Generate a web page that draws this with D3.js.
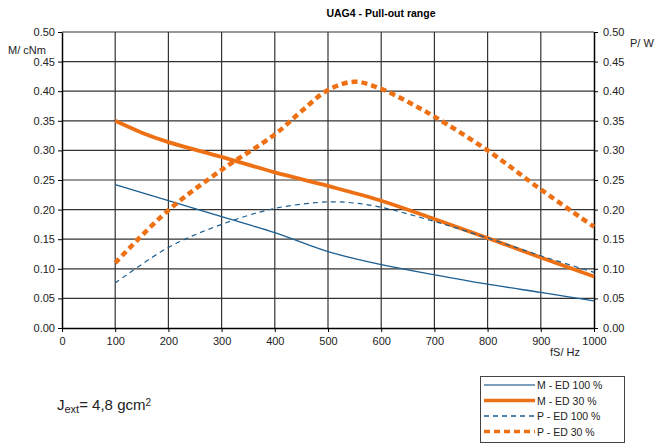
<!DOCTYPE html>
<html><head><meta charset="utf-8">
<script src="https://cdn.jsdelivr.net/npm/d3@7/dist/d3.min.js"></script>
<style>body{margin:0;background:#fff;font-family:"Liberation Sans",Arial,sans-serif}</style>
</head><body><svg id="c" width="657" height="448"></svg>
<script>
const title = "UAG4 - Pull-out range";
const xTicks = [0,100,200,300,400,500,600,700,800,900,1000];
const yTicks = [0,0.05,0.10,0.15,0.20,0.25,0.30,0.35,0.40,0.45,0.50];
const mEd100X = [100,200,300,400,500,600,700,800,900,1000];
const mEd100Y = [0.242,0.215,0.188,0.161,0.129,0.107,0.090,0.074,0.060,0.046];
const mEd30X = [100,150,200,300,400,500,600,700,800,900,1000];
const mEd30Y = [0.350,0.330,0.314,0.289,0.263,0.240,0.215,0.184,0.152,0.119,0.087];
const pEd100X = [100,200,300,400,500,550,600,700,800,900,1000];
const pEd100Y = [0.076,0.136,0.175,0.202,0.213,0.211,0.204,0.180,0.152,0.122,0.094];
const pEd30X = [100,200,300,400,450,500,550,600,650,700,800,900,1000];
const pEd30Y = [0.110,0.199,0.267,0.327,0.366,0.402,0.416,0.404,0.382,0.357,0.300,0.234,0.171];
const seriesNames = ["M - ED 100 %","M - ED 30 %","P - ED 100 %","P - ED 30 %"];

const svg = d3.select("#c");
const x = d3.scaleLinear().domain([0,1000]).range([62,594]);
const y = d3.scaleLinear().domain([0,0.5]).range([328,32]);
const blue = "#1b5e91", orange = "#ee7014";

// grid
svg.append("g").selectAll("line").data(xTicks.slice(1,-1)).join("line")
  .attr("x1",d=>x(d)).attr("x2",d=>x(d)).attr("y1",y(0.5)).attr("y2",y(0))
  .attr("stroke","#333").attr("stroke-width",1.2);
svg.append("g").selectAll("line").data(yTicks.slice(1)).join("line")
  .attr("x1",x(0)).attr("x2",x(1000)).attr("y1",d=>y(d)).attr("y2",d=>y(d))
  .attr("stroke","#333").attr("stroke-width",1.2);

const fmt = d3.format(".2f");
const axisFont = g => g.selectAll("text").attr("font-size",11).attr("fill","#222").attr("font-family","Liberation Sans, Arial, sans-serif");
const axStyle = g => { g.select(".domain").attr("stroke","#000").attr("stroke-width",1.5); g.selectAll(".tick line").attr("stroke","#000"); axisFont(g); };

svg.append("g").attr("transform","translate(62,0)")
  .call(d3.axisLeft(y).tickValues(yTicks).tickFormat(fmt).tickSize(4).tickSizeOuter(0).tickPadding(3)).call(axStyle);
svg.append("g").attr("transform","translate(594,0)")
  .call(d3.axisRight(y).tickValues(yTicks).tickFormat(fmt).tickSize(4).tickSizeOuter(0).tickPadding(5)).call(axStyle);
svg.append("g").attr("transform","translate(0,328)")
  .call(d3.axisBottom(x).tickValues(xTicks).tickFormat(d3.format("d")).tickSize(4).tickSizeOuter(0).tickPadding(5)).call(axStyle);

const line = d3.line().x(d=>x(d[0])).y(d=>y(d[1])).curve(d3.curveCatmullRom.alpha(0.5));
const zip = (a,b)=>a.map((v,i)=>[v,b[i]]);
const series = [
  {xs:mEd100X, ys:mEd100Y, c:blue, w:1.3, dash:null},
  {xs:mEd30X, ys:mEd30Y, c:orange, w:3.8, dash:null},
  {xs:pEd100X, ys:pEd100Y, c:blue, w:1.2, dash:"5,4"},
  {xs:pEd30X, ys:pEd30Y, c:orange, w:4.5, dash:"6,4"}
];
series.forEach(s=>{
  svg.append("path").attr("d",line(zip(s.xs,s.ys))).attr("fill","none")
    .attr("stroke",s.c).attr("stroke-width",s.w).attr("stroke-dasharray",s.dash);
});

// texts
svg.append("text").attr("x",381).attr("y",17).attr("text-anchor","middle")
  .attr("font-size",10.5).attr("font-weight","bold").text(title);
svg.append("text").attr("x",8).attr("y",54).attr("font-size",11).attr("fill","#222").text("M/ cNm");
svg.append("text").attr("x",630).attr("y",47).attr("font-size",11).attr("fill","#222").text("P/ W");
svg.append("text").attr("x",550).attr("y",356).attr("font-size",11).attr("fill","#222").text("fS/ Hz");

const jt = svg.append("text").attr("x",57).attr("y",410).attr("font-size",15).attr("fill","#222");
jt.append("tspan").text("J");
jt.append("tspan").attr("font-size",11).attr("dy",3).text("ext");
jt.append("tspan").attr("dy",-3).text("= 4,8 gcm");
jt.append("tspan").attr("font-size",10).attr("dy",-4).text("2");

// legend
const lg = svg.append("g");
lg.append("rect").attr("x",480.5).attr("y",376.5).attr("width",144).attr("height",66)
  .attr("fill","#fff").attr("stroke","#444").attr("stroke-width",1);
series.forEach((s,i)=>{
  const yy = 385 + i*15.5;
  lg.append("line").attr("x1",484).attr("x2",535).attr("y1",yy).attr("y2",yy)
    .attr("stroke", i===0 ? "#4f7fa6" : s.c).attr("stroke-width", i===1?3.5:(i===3?3.5:1.3)).attr("stroke-dasharray",s.dash);
  lg.append("text").attr("x",537).attr("y",yy+4).attr("font-size",10.5).attr("fill","#222").text(seriesNames[i]);
});
</script></body></html>
